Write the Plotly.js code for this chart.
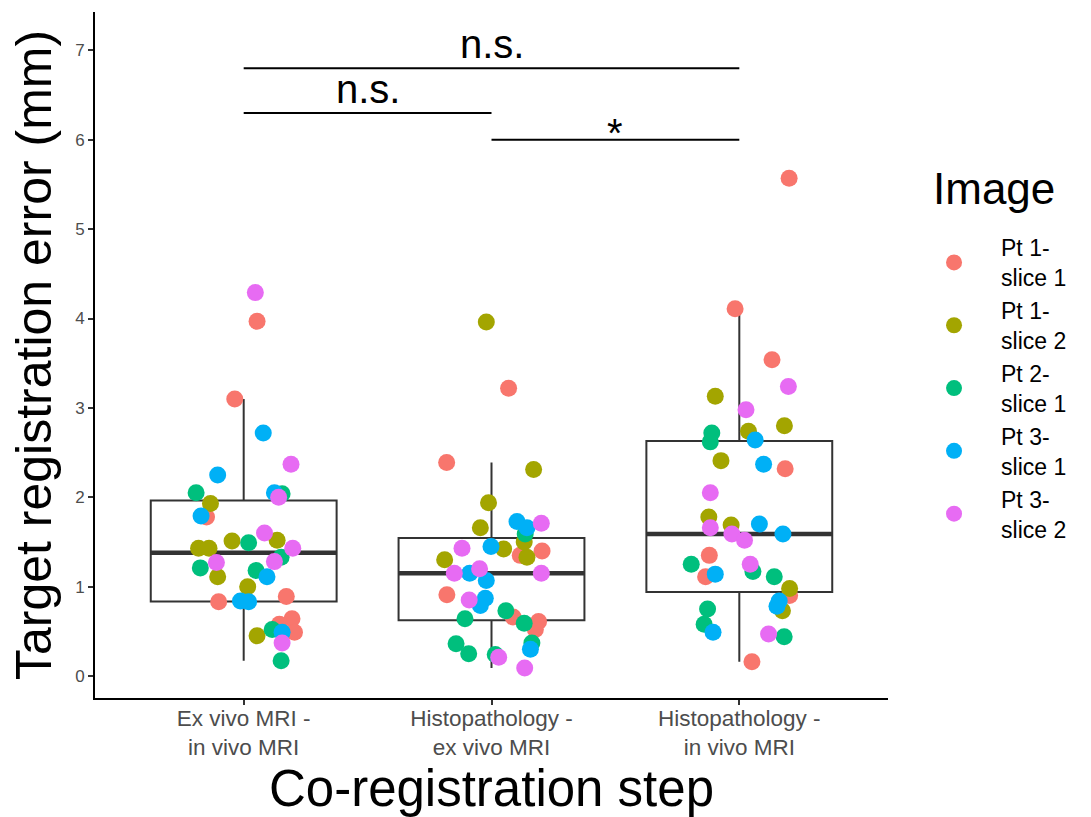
<!DOCTYPE html>
<html><head><meta charset="utf-8">
<script src="https://cdn.plot.ly/plotly-3.0.1.min.js"></script>
<style>html,body{margin:0;padding:0;background:#fff}#chart{width:1091px;height:817px}</style>
</head><body><div id="chart"></div>
<script>
// Categories (x axis)
const categories = ["Ex vivo MRI -<br>in vivo MRI", "Histopathology -<br>ex vivo MRI", "Histopathology -<br>in vivo MRI"];
const seriesNames = ["Pt 1-<br>slice 1", "Pt 1-<br>slice 2", "Pt 2-<br>slice 1", "Pt 3-<br>slice 1", "Pt 3-<br>slice 2"];
const seriesColors = ["#F8766D", "#A3A500", "#00BF7D", "#00B0F6", "#E76BF3"];

// Target registration error (mm), one list per category
const pt1_slice1 = [[3.97,3.10,1.78,0.83,0.89,0.64,0.58,0.49],[3.22,2.39,1.40,1.35,0.91,0.66,0.61,0.52],[5.57,4.11,3.54,2.32,1.35,1.11,0.90,0.16]];
const pt1_slice2 = [[1.93,1.51,1.52,1.43,1.43,1.11,1.00,0.45],[3.96,2.31,1.94,1.66,1.50,1.42,1.33,1.30],[3.13,2.80,2.74,2.41,1.78,1.69,0.98,0.73]];
const pt2_slice1 = [[2.05,2.04,1.49,1.33,1.21,1.18,0.52,0.17],[1.59,0.73,0.64,0.59,0.36,0.25,0.24,0.37],[2.72,2.62,1.25,1.17,1.11,0.75,0.58,0.44]];
const pt3_slice1 = [[2.72,2.25,2.05,1.79,1.11,0.84,0.83,0.49],[1.73,1.66,1.45,1.15,1.07,0.87,0.79,0.30],[2.64,2.37,1.70,1.59,1.14,0.84,0.78,0.49]];
const pt3_slice2 = [[4.29,2.37,2.00,1.60,1.43,1.28,1.27,0.37],[1.71,1.43,1.15,1.20,1.15,0.85,0.21,0.09],[3.24,2.98,2.05,1.66,1.59,1.52,1.25,0.47]];

// Horizontal jitter (category units)
const pt1_slice1_jitter = [[0.054,-0.036,-0.150,-0.101,0.172,0.195,0.144,0.205],[0.069,-0.181,0.204,0.116,-0.180,0.087,0.190,0.177],[0.201,-0.017,0.132,0.185,-0.121,-0.136,0.203,0.051]];
const pt1_slice2_jitter = [[-0.134,-0.047,0.135,-0.182,-0.140,-0.105,0.016,0.054],[-0.021,0.170,-0.012,-0.045,0.132,0.049,0.143,-0.189],[-0.097,0.182,0.037,-0.074,-0.123,-0.033,0.203,0.174]];
const pt2_slice1_jitter = [[-0.192,0.155,0.020,0.151,-0.175,0.050,0.115,0.151],[0.136,0.058,-0.107,0.132,-0.143,-0.092,0.015,0.163],[-0.111,-0.117,-0.194,0.055,0.141,-0.128,-0.142,0.181]];
const pt3_slice1_jitter = [[0.079,-0.105,0.124,-0.172,0.094,-0.013,0.020,0.155],[0.103,0.143,-0.002,-0.088,-0.021,-0.025,-0.045,0.157],[0.064,0.098,0.081,0.176,-0.097,0.161,0.152,-0.106]];
const pt3_slice2_jitter = [[0.047,0.191,0.141,0.084,0.198,0.124,-0.110,0.155],[0.201,-0.119,-0.150,-0.048,0.201,-0.090,0.029,0.134],[0.198,0.027,-0.117,-0.117,-0.030,0.021,0.044,0.118]];

// Significance brackets
const brackets = [
  {from: 1, to: 3, y: 6.8, label: "n.s."},
  {from: 1, to: 2, y: 6.3, label: "n.s."},
  {from: 2, to: 3, y: 6.0, label: "*"}
];

const allSeries = [pt1_slice1, pt1_slice2, pt2_slice1, pt3_slice1, pt3_slice2];
const allJitter = [pt1_slice1_jitter, pt1_slice2_jitter, pt2_slice1_jitter, pt3_slice1_jitter, pt3_slice2_jitter];
const BOXW = 0.75;
const FONT = "Liberation Sans, Arial, sans-serif";

function quantile(arr, p) {
  const s = arr.slice().sort((a, b) => a - b);
  const h = (s.length - 1) * p, lo = Math.floor(h), hi = Math.ceil(h);
  return s[lo] + (s[hi] - s[lo]) * (h - lo);
}

const traces = [];
// Box plot (all series pooled per category); outliers hidden, whiskers at 1.5 IQR
const bx = [], by = [];
categories.forEach((c, g) => {
  allSeries.forEach(s => s[g].forEach(v => { bx.push(g + 1); by.push(v); }));
});
traces.push({
  type: "box", x: bx, y: by, boxpoints: "outliers", width: BOXW, whiskerwidth: 0,
  quartilemethod: "linear",
  marker: {opacity: 0, size: 1},
  line: {color: "#333333", width: 2}, fillcolor: "rgba(255,255,255,1)",
  showlegend: false, hoverinfo: "skip"
});
// Thicker median line
categories.forEach((c, g) => {
  const vals = [];
  allSeries.forEach(s => s[g].forEach(v => vals.push(v)));
  const m = quantile(vals, 0.5);
  traces.push({
    type: "scatter", mode: "lines", x: [g + 1 - BOXW / 2, g + 1 + BOXW / 2], y: [m, m],
    line: {color: "#333333", width: 4.5}, showlegend: false, hoverinfo: "skip"
  });
});
// Jittered points
allSeries.forEach((s, k) => {
  const xs = [], ys = [];
  s.forEach((grp, g) => grp.forEach((v, i) => { xs.push(g + 1 + allJitter[k][g][i]); ys.push(v); }));
  traces.push({
    type: "scatter", mode: "markers", x: xs, y: ys, name: seriesNames[k],
    marker: {color: seriesColors[k], size: 17, line: {width: 0}}
  });
});

const shapes = brackets.map(b => ({
  type: "line", xref: "x", yref: "y", x0: b.from, x1: b.to, y0: b.y, y1: b.y,
  line: {color: "#000000", width: 2}
}));
const annotations = brackets.map(b => ({
  x: (b.from + b.to) / 2, y: b.y, xref: "x", yref: "y", text: b.label, showarrow: false,
  yanchor: "bottom", yshift: b.label === "*" ? -17 : 0,
  font: {family: FONT, size: 40, color: "#000000"}
}));
// Legend title
annotations.push({
  x: 1.054, y: 0.742, xref: "paper", yref: "paper", xanchor: "left", yanchor: "middle",
  text: "Image", showarrow: false, font: {family: FONT, size: 44, color: "#000000"}
});

const layout = {
  width: 1091, height: 817,
  margin: {l: 95, r: 203, t: 12, b: 119},
  paper_bgcolor: "#ffffff", plot_bgcolor: "#ffffff",
  font: {family: FONT},
  xaxis: {
    range: [0.4, 3.6], tickvals: [1, 2, 3], ticktext: categories,
    showgrid: false, zeroline: false, showline: true, linecolor: "#000000", linewidth: 2,
    ticks: "outside", ticklen: 5, tickwidth: 2, tickcolor: "#333333",
    ticklabelstandoff: -6,
    tickfont: {family: FONT, size: 22.5, color: "#4D4D4D"},
    title: {text: "Co-registration step", font: {family: FONT, size: 51, color: "#000000"}, standoff: 0}
  },
  yaxis: {
    range: [-0.246, 7.43], tickvals: [0, 1, 2, 3, 4, 5, 6, 7],
    showgrid: false, zeroline: false, showline: true, linecolor: "#000000", linewidth: 2,
    ticks: "outside", ticklen: 5, tickwidth: 2, tickcolor: "#333333",
    tickfont: {family: FONT, size: 17, color: "#4D4D4D"},
    title: {text: "Target registration error (mm)", font: {family: FONT, size: 50, color: "#000000"}, standoff: 8}
  },
  legend: {
    x: 1.024, xanchor: "left", y: 0.688, yanchor: "top",
    font: {family: FONT, size: 23, color: "#000000"},
    itemwidth: 84, bgcolor: "rgba(0,0,0,0)"
  },
  shapes: shapes,
  annotations: annotations
};

Plotly.newPlot("chart", traces, layout, {displayModeBar: false, staticPlot: true});
</script>
</body></html>
